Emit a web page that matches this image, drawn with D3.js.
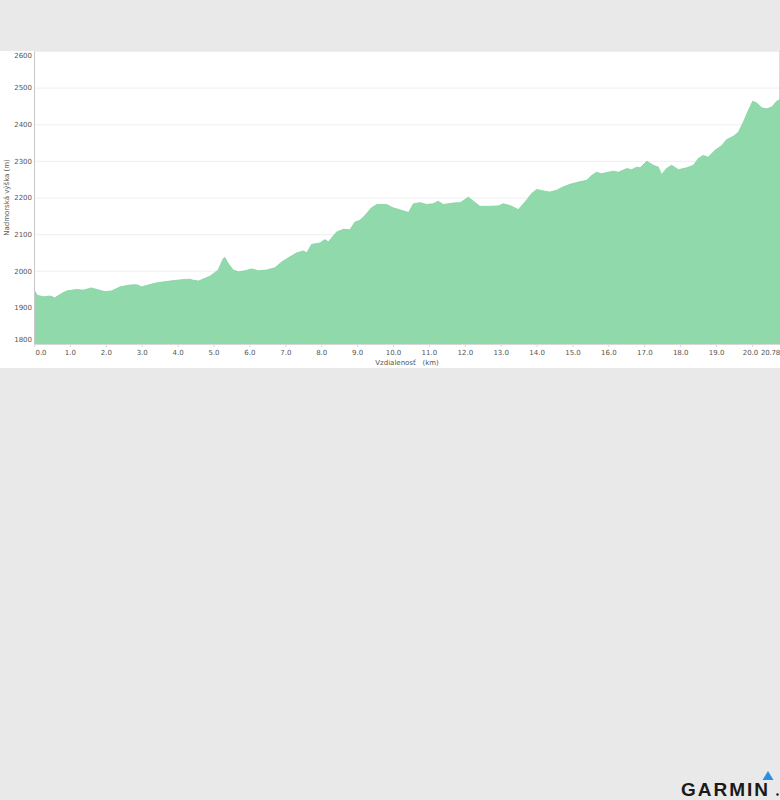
<!DOCTYPE html>
<html>
<head>
<meta charset="utf-8">
<script src="https://cdn.jsdelivr.net/npm/d3@7"></script>
<style>
  html, body { margin: 0; padding: 0; background: #e9e9e9; }
  svg { display: block; }
</style>
</head>
<body>
<svg id="chart" width="780" height="800"></svg>
<script>
// ---- Data ----
const distanceKm = [0, 0.09, 0.26, 0.45, 0.58, 0.77, 0.91, 1.19, 1.37, 1.6, 1.75, 1.98, 2.16, 2.4, 2.67, 2.86, 3.0, 3.18, 3.42, 3.79, 4.16, 4.35, 4.44, 4.58, 4.9, 5.13, 5.27, 5.32, 5.41, 5.55, 5.69, 5.88, 6.06, 6.25, 6.48, 6.71, 6.9, 7.13, 7.32, 7.5, 7.6, 7.73, 7.97, 8.1, 8.2, 8.43, 8.62, 8.8, 8.94, 9.08, 9.22, 9.4, 9.55, 9.82, 10.0, 10.24, 10.43, 10.57, 10.75, 10.94, 11.12, 11.26, 11.4, 11.68, 11.87, 12.1, 12.24, 12.42, 12.7, 12.93, 13.07, 13.26, 13.49, 13.68, 13.86, 14.0, 14.19, 14.37, 14.56, 14.74, 14.93, 15.16, 15.4, 15.53, 15.67, 15.81, 15.95, 16.14, 16.28, 16.51, 16.65, 16.79, 16.88, 17.07, 17.25, 17.39, 17.48, 17.62, 17.76, 17.95, 18.18, 18.37, 18.5, 18.64, 18.78, 18.97, 19.16, 19.29, 19.48, 19.62, 19.76, 19.9, 20.02, 20.13, 20.27, 20.41, 20.55, 20.69, 20.73, 20.775, 20.78];
const elevationM = [1948, 1933, 1929, 1931, 1926, 1938, 1945, 1949, 1947, 1953, 1949, 1943, 1945, 1956, 1961, 1962, 1956, 1961, 1967, 1972, 1976, 1977, 1974, 1972, 1985, 2002, 2033, 2036, 2020, 2002, 1997, 2000, 2005, 2000, 2002, 2008, 2024, 2038, 2049, 2054, 2049, 2072, 2076, 2085, 2079, 2106, 2113, 2112, 2133, 2138, 2151, 2172, 2181, 2181, 2172, 2165, 2159, 2183, 2186, 2181, 2183, 2190, 2181, 2185, 2186, 2201, 2190, 2176, 2176, 2177, 2183, 2178, 2167, 2188, 2211, 2222, 2218, 2215, 2220, 2229, 2236, 2242, 2247, 2260, 2269, 2265, 2268, 2272, 2269, 2279, 2276, 2283, 2281, 2299, 2288, 2283, 2263, 2279, 2288, 2276, 2281, 2288, 2306, 2315, 2310, 2329, 2342, 2358, 2367, 2378, 2406, 2438, 2463, 2458, 2445, 2442, 2447, 2463, 2465, 2467, 2600];
const xTickValues = [0, 1, 2, 3, 4, 5, 6, 7, 8, 9, 10, 11, 12, 13, 14, 15, 16, 17, 18, 19, 20];
const xEndLabel = "20.78";
const yTickValues = [1800, 1900, 2000, 2100, 2200, 2300, 2400, 2500, 2600];
const yTitle = "Nadmorská výška (m)";
const xTitle = "Vzdialenosť\u00a0\u00a0\u00a0(km)";

const data = distanceKm.map((d, i) => ({ x: d, y: elevationM[i] }));

// ---- Layout ----
const W = 780, H = 800;
const panel = { top: 51, bottom: 368 };
const plot = { left: 34, right: 780, top: 51, bottom: 344 };
const font = "'DejaVu Sans', Verdana, sans-serif";

const svg = d3.select("#chart");

svg.append("rect").attr("x", 0).attr("y", 0).attr("width", W).attr("height", H).attr("fill", "#e9e9e9");
svg.append("rect").attr("x", 0).attr("y", panel.top).attr("width", W).attr("height", panel.bottom - panel.top).attr("fill", "#ffffff");

const x = d3.scaleLinear().domain([0, 20.78]).range([plot.left, plot.right]);
const y = d3.scaleLinear().domain([1800, 2600]).range([plot.bottom, plot.top]);

// gridlines
svg.append("g").selectAll("line").data(yTickValues.slice(1)).join("line")
  .attr("x1", plot.left).attr("x2", plot.right)
  .attr("y1", d => y(d) + 0.5).attr("y2", d => y(d) + 0.5)
  .attr("stroke", "#efefef").attr("stroke-width", 1);

// area
const area = d3.area().x(d => x(d.x)).y0(y(1800)).y1(d => y(d.y)).curve(d3.curveLinear);
svg.append("path").datum(data).attr("d", area).attr("fill", "#8fd9ab");
svg.append("path").datum(data)
  .attr("d", d3.line().x(d => x(d.x)).y(d => y(d.y)))
  .attr("fill", "none").attr("stroke", "#84d3a2").attr("stroke-width", 0.8);

// y axis
const yAxis = d3.axisLeft(y).tickValues(yTickValues).tickFormat(d3.format("d")).tickSize(0).tickPadding(2);
const gy = svg.append("g").attr("transform", `translate(${plot.left},0)`).call(yAxis);
gy.select(".domain").attr("stroke", "#c8c8c8");
gy.selectAll("text").attr("font-family", font).attr("font-size", 7).attr("fill", "#555")
  .attr("dy", d => d === 2600 ? "0.95em" : d === 1800 ? "-0.35em" : "0.32em");

// x axis
const xAxis = d3.axisBottom(x).tickValues(xTickValues).tickFormat(d3.format(".1f")).tickSize(3).tickPadding(3);
const gx = svg.append("g").attr("transform", `translate(0,${plot.bottom})`).call(xAxis);
gx.select(".domain").attr("stroke", "#d8d8d8");
gx.selectAll(".tick line").attr("stroke", "#d8d8d8");
gx.selectAll("text").attr("font-family", font).attr("font-size", 7).attr("fill", "#555")
  .attr("dx", d => d === 0 ? 6.5 : d === 20 ? -2 : 0);
gx.append("text").attr("x", x(20.78)).attr("y", 6).attr("dy", "0.71em")
  .attr("text-anchor", "end").attr("font-family", font).attr("font-size", 7)
  .attr("letter-spacing", -0.2).attr("fill", "#555")
  .text(xEndLabel);

// axis titles
svg.append("text").attr("transform", `translate(9,${(plot.top + plot.bottom) / 2}) rotate(-90)`)
  .attr("text-anchor", "middle").attr("font-family", font).attr("font-size", 7).attr("fill", "#555")
  .text(yTitle);
svg.append("text").attr("x", (plot.left + plot.right) / 2).attr("y", 364.5)
  .attr("text-anchor", "middle").attr("font-family", font).attr("font-size", 7).attr("fill", "#555")
  .text(xTitle);

// Garmin logo
const logo = svg.append("g");
logo.append("text").attr("x", 681).attr("y", 796)
  .attr("font-family", "'Liberation Sans', Arial, sans-serif").attr("font-weight", "bold")
  .attr("font-size", 19).attr("letter-spacing", 2).attr("fill", "#1a1a1a").text("GARMIN");
logo.append("path").attr("d", "M768,771 L773.5,780 L762.5,780 Z").attr("fill", "#2b8fe6");
logo.append("circle").attr("cx", 777.5).attr("cy", 794.5).attr("r", 1.2).attr("fill", "#1a1a1a");
</script>
</body>
</html>
